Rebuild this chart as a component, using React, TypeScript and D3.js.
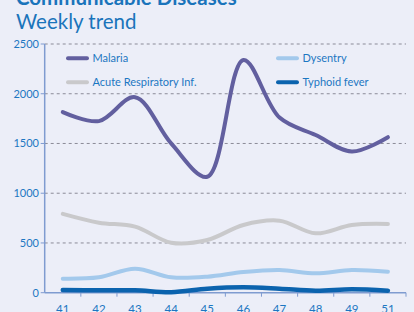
import { useMemo } from 'react';
import * as d3 from 'd3';

const weeks = ['41', '42', '43', '44', '45', '46', '47', '48', '49', '51'];
const malaria = [1815, 1725, 1965, 1500, 1165, 2340, 1760, 1585, 1420, 1563];
const ari = [792, 704, 664, 503, 530, 681, 724, 597, 681, 691];
const dysentry = [141, 155, 241, 155, 161, 208, 228, 195, 228, 211];
const typhoid = [27, 24, 24, 5, 40, 54, 40, 20, 34, 20];
const yTicks = [0, 500, 1000, 1500, 2000, 2500];

const seriesNames = ['Malaria', 'Acute Respiratory Inf.', 'Dysentry', 'Typhoid fever'];
const seriesColors = ['#625f9f', '#c9c9cb', '#a3c9ec', '#0b63ae'];

const W = 414;
const H = 312;
const left = 44.7;
const right = 406;
const top = 44;
const bottom = 292.7;

export default function App() {
  const x = useMemo(() => d3.scaleBand().domain(weeks).range([left, right]), []);
  const y = useMemo(() => d3.scaleLinear().domain([0, 2500]).range([bottom, top]), []);

  const line = d3.line<number>()
    .x((_, i) => (x(weeks[i]) as number) + x.bandwidth() / 2)
    .y((d) => y(d))
    .curve(d3.curveCatmullRom.alpha(0.5));

  const data = [malaria, ari, dysentry, typhoid];
  // draw order: ARI, dysentry, typhoid, then malaria on top
  const order = [1, 2, 3, 0];

  const legendPos = [
    { x: 68, y: 58.3 },
    { x: 68, y: 82.3 },
    { x: 278, y: 58.3 },
    { x: 278, y: 82.3 },
  ];

  const boundaries = weeks.map((w) => x(w) as number).concat(right).slice(1);

  return (
    <svg width={W} height={H} style={{ position: 'absolute', left: 0, top: 0, background: '#eceef8' }}
      fontFamily="Lato, 'Open Sans', sans-serif">
      <rect width={W} height={H} fill="#eceef8" />
      <text x={16} y={5} fontSize={20.5} fontWeight="bold" fill="#1a74bb">Communicable Diseases</text>
      <text x={16} y={29} fontSize={20.5} fill="#1a74bb">Weekly trend</text>

      {/* grid */}
      {yTicks.filter((t) => t > 0).map((t) => (
        <line key={t} x1={left} x2={right} y1={y(t)} y2={y(t)} stroke="#8b8b98" strokeWidth={1} strokeDasharray="3,3" />
      ))}

      {/* y axis */}
      <line x1={left} x2={left} y1={top} y2={bottom} stroke="#7f9bd0" strokeWidth={1.5} />
      {yTicks.map((t) => (
        <g key={t}>
          <line x1={left - 4} x2={left} y1={y(t)} y2={y(t)} stroke="#7f9bd0" strokeWidth={1} />
          <text x={39} y={y(t)} dy="0.35em" textAnchor="end" fontSize={11} fill="#1c77c2">{t}</text>
        </g>
      ))}

      {/* x axis */}
      <line x1={left} x2={right} y1={bottom} y2={bottom} stroke="#7f9bd0" strokeWidth={1.5} />
      {boundaries.map((b, i) => (
        <line key={i} x1={b} x2={b} y1={bottom} y2={bottom + 4} stroke="#7f9bd0" strokeWidth={1} />
      ))}
      {weeks.map((w) => (
        <text key={w} x={(x(w) as number) + x.bandwidth() / 2} y={313} textAnchor="middle" fontSize={11.5} fill="#1c77c2">{w}</text>
      ))}

      {/* lines */}
      {order.map((k) => (
        <path key={k} d={line(data[k]) ?? ''} fill="none" stroke={seriesColors[k]} strokeWidth={k === 3 ? 4.5 : 4}
          strokeLinecap="round" strokeLinejoin="round" />
      ))}

      {/* legend */}
      {seriesNames.map((n, i) => (
        <g key={n}>
          <line x1={legendPos[i].x} x2={legendPos[i].x + 19} y1={legendPos[i].y} y2={legendPos[i].y}
            stroke={seriesColors[i]} strokeWidth={4} strokeLinecap="round" />
          <text x={legendPos[i].x + 24.5} y={legendPos[i].y} dy="0.35em" fontSize={11} fill="#1c77c2">{n}</text>
        </g>
      ))}
    </svg>
  );
}
